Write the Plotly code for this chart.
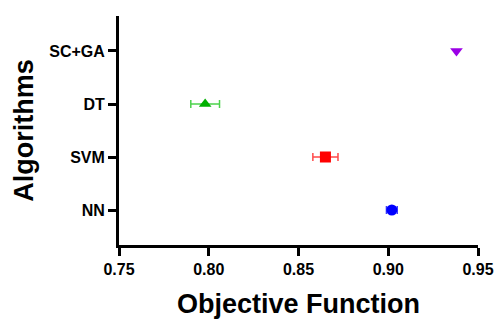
import plotly.graph_objects as go

algorithms = ["NN", "SVM", "DT", "SC+GA"]
objective = [0.902, 0.865, 0.798, 0.938]
errors = [0.003, 0.007, 0.008, 0.0]
colors = ["#0000FF", "#FF0000", "#00B000", "#9B00E6"]
error_colors = ["#3A3AFF", "#FF4A4A", "#4CD24C", "#B040F0"]
symbols = ["circle", "square", "triangle-up", "triangle-down"]

fig = go.Figure()
for i, name in enumerate(algorithms):
    fig.add_trace(go.Scatter(
        x=[objective[i]], y=[i], mode="markers",
        marker=dict(color=colors[i], symbol=symbols[i], size=11, line=dict(width=0)),
        error_x=dict(type="data", array=[errors[i]], visible=errors[i] > 0,
                     color=error_colors[i], thickness=1.5, width=4),
        showlegend=False, name=name,
    ))

font_family = "Liberation Sans, Arial, sans-serif"
fig.update_layout(
    width=496, height=322,
    margin=dict(l=119, r=18, t=16, b=77),
    plot_bgcolor="white", paper_bgcolor="white",
    font=dict(family=font_family, color="black"),
    xaxis=dict(
        range=[0.75, 0.95], tickvals=[0.75, 0.80, 0.85, 0.90, 0.95],
        ticktext=["0.75", "0.80", "0.85", "0.90", "0.95"],
        showgrid=False, zeroline=False, automargin=False,
        showline=True, linecolor="black", linewidth=3,
        ticks="outside", ticklen=8, tickwidth=3, tickcolor="black",
        tickfont=dict(size=16, family=font_family, weight="bold"),
        title=dict(text="<b>Objective Function</b>", font=dict(size=27), standoff=17),
    ),
    yaxis=dict(
        range=[-0.66, 3.66], tickvals=[0, 1, 2, 3], ticktext=algorithms,
        showgrid=False, zeroline=False, automargin=False,
        showline=True, linecolor="black", linewidth=3,
        ticks="outside", ticklen=8, tickwidth=3, tickcolor="black",
        tickfont=dict(size=16, family=font_family, weight="bold"),
        title=dict(text="<b>Algorithms</b>", font=dict(size=27), standoff=8),
    ),
)
fig.write_html("out.html", config={"displayModeBar": False},
               post_script="document.body.style.margin='0';")
